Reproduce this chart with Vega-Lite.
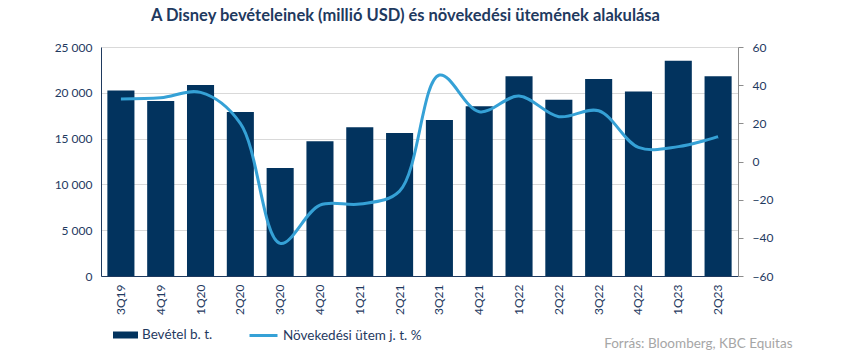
{
  "$schema": "https://vega.github.io/schema/vega-lite/v6.json",
  "width": 637,
  "height": 229,
  "autosize": {"type": "none"},
  "padding": {"left": 101, "top": 47, "right": 112, "bottom": 79},
  "background": "white",
  "config": {
    "font": "Lato",
    "view": {"stroke": null},
    "axis": {"labelFont": "Lato", "labelFontSize": 12, "labelColor": "#1F3A5F"}
  },
  "title": {
    "text": "A Disney bevételeinek  (millió USD) és növekedési ütemének alakulása",
    "font": "Lato",
    "fontSize": 16.5,
    "fontWeight": "bold",
    "color": "#1F3A5F",
    "anchor": "middle",
    "frame": "group",
    "dx": -14,
    "offset": 17
  },
  "data": {
    "values": [
      {"q": "3Q19", "rev": 20245, "growth": 32.8},
      {"q": "4Q19", "rev": 19100, "growth": 33.4},
      {"q": "1Q20", "rev": 20858, "growth": 36.2},
      {"q": "2Q20", "rev": 17913, "growth": 20.0},
      {"q": "3Q20", "rev": 11779, "growth": -42.9},
      {"q": "4Q20", "rev": 14707, "growth": -22.8},
      {"q": "1Q21", "rev": 16249, "growth": -22.3},
      {"q": "2Q21", "rev": 15613, "growth": -15.5},
      {"q": "3Q21", "rev": 17022, "growth": 45.3},
      {"q": "4Q21", "rev": 18531, "growth": 26.1},
      {"q": "1Q22", "rev": 21819, "growth": 34.3},
      {"q": "2Q22", "rev": 19249, "growth": 23.5},
      {"q": "3Q22", "rev": 21504, "growth": 26.6},
      {"q": "4Q22", "rev": 20150, "growth": 7.4},
      {"q": "1Q23", "rev": 23512, "growth": 7.8},
      {"q": "2Q23", "rev": 21815, "growth": 13.0}
    ]
  },
  "encoding": {
    "x": {
      "field": "q",
      "type": "nominal",
      "sort": null,
      "scale": {"paddingInner": 0.32, "paddingOuter": 0.16},
      "axis": {
        "title": "Forrás: Bloomberg, KBC Equitas",
        "titleFont": "Lato",
        "titleFontSize": 13.5,
        "titleFontWeight": "normal",
        "titleColor": "#A6A6A6",
        "titleAnchor": "end",
        "titleAlign": "right",
        "titleBaseline": "middle",
        "titleX": 691,
        "titleY": 67,
        "labelAngle": 270,
        "labelPadding": 8,
        "ticks": false,
        "domainColor": "#1F3A5F",
        "domainWidth": 1
      }
    }
  },
  "layer": [
    {
      "mark": {"type": "bar"},
      "encoding": {
        "y": {
          "field": "rev",
          "type": "quantitative",
          "scale": {"domain": [0, 25000], "nice": false},
          "axis": {
            "title": null,
            "values": [0, 5000, 10000, 15000, 20000, 25000],
            "labelExpr": "replace(format(datum.value, ','), ',', ' ')",
            "ticks": false,
            "labelPadding": 9,
            "domainColor": "#1F3A5F",
            "grid": true,
            "gridColor": "#D9D9D9",
            "gridWidth": 1
          }
        },
        "color": {
          "datum": "Bevétel b. t.",
          "type": "nominal",
          "scale": {"range": ["#02335E"]},
          "legend": {
            "title": null,
            "orient": "none",
            "legendX": 12,
            "legendY": 275.5,
            "padding": 0,
            "symbolType": "M-1,-0.28H1V0.28H-1Z",
            "symbolSize": 625,
            "symbolStrokeWidth": 0,
            "labelFont": "Lato",
            "labelFontSize": 13.5,
            "labelColor": "#1F3A5F",
            "labelOffset": 4
          }
        }
      }
    },
    {
      "mark": {"type": "line", "interpolate": "catmull-rom", "strokeWidth": 3},
      "encoding": {
        "y": {
          "field": "growth",
          "type": "quantitative",
          "scale": {"domain": [-60, 60], "nice": false},
          "axis": {
            "title": null,
            "orient": "right",
            "values": [-60, -40, -20, 0, 20, 40, 60],
            "grid": false,
            "domainColor": "#8C8C8C",
            "tickColor": "#8C8C8C",
            "tickSize": 5,
            "labelPadding": 9
          }
        },
        "color": {
          "datum": "Növekedési ütem j. t. %",
          "type": "nominal",
          "scale": {"range": ["#35A1D6"]},
          "legend": {
            "title": null,
            "orient": "none",
            "legendX": 147,
            "legendY": 273,
            "padding": 0,
            "symbolType": "stroke",
            "symbolSize": 784,
            "symbolStrokeWidth": 3,
            "labelFont": "Lato",
            "labelFontSize": 13.5,
            "labelColor": "#1F3A5F",
            "labelOffset": 4
          }
        }
      }
    }
  ],
  "resolve": {"scale": {"y": "independent", "color": "independent"}, "legend": {"color": "independent"}}
}
